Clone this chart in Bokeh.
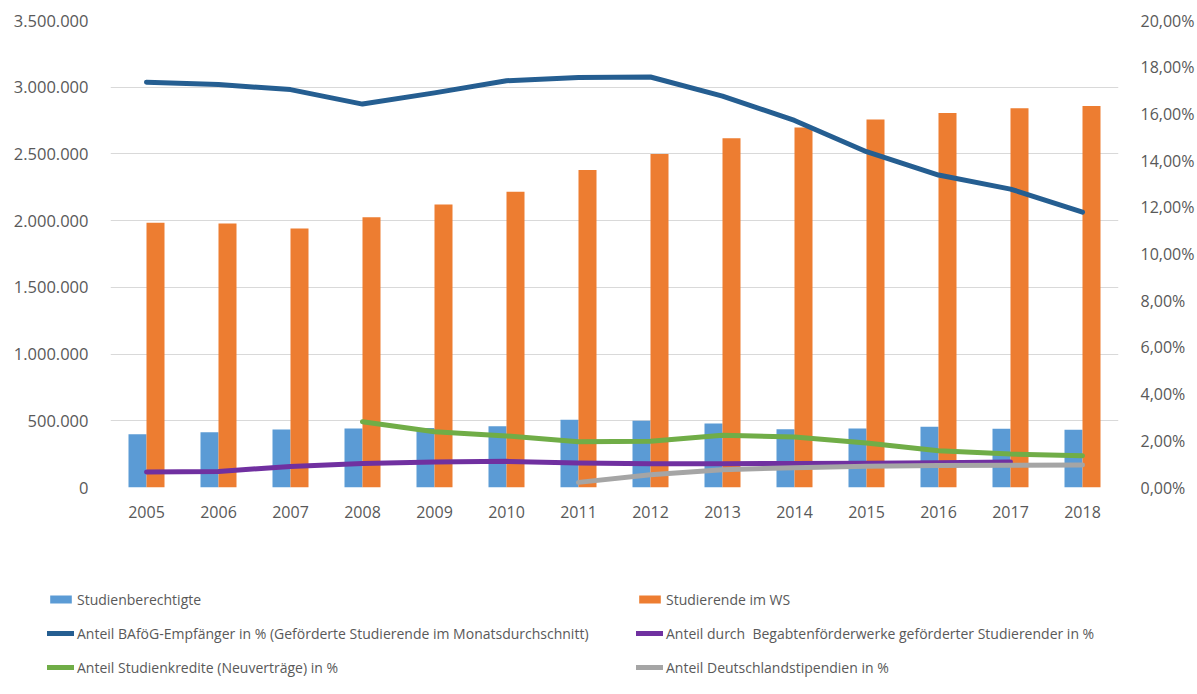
import math
from bokeh.plotting import figure
from bokeh.models import (FactorRange, Range1d, LinearAxis, FixedTicker, Legend,
                          LegendItem, ColumnDataSource)
from bokeh.transform import dodge
from bokeh.embed import file_html
from bokeh.resources import INLINE

years = ["2005", "2006", "2007", "2008", "2009", "2010", "2011",
         "2012", "2013", "2014", "2015", "2016", "2017", "2018"]
studienberechtigte = [399000, 415000, 435000, 443000, 445000, 459000, 507000,
                      501000, 480000, 437000, 442000, 455000, 441000, 432000]
studierende = [1985000, 1979000, 1942000, 2026000, 2121000, 2216000, 2380000,
               2499000, 2617000, 2699000, 2758000, 2806000, 2843000, 2860000]
bafoeg_pct = [17.36, 17.26, 17.04, 16.42, 16.9, 17.42, 17.56,
              17.58, 16.76, 15.72, 14.38, 13.38, 12.78, 11.79]
begabten_pct = [0.66, 0.69, 0.90, 1.03, 1.09, 1.12, 1.05,
                1.02, 1.02, 1.03, 1.04, 1.06, 1.09, None]
kredite_pct = [None, None, None, 2.82, 2.39, 2.21, 1.96,
               1.98, 2.24, 2.16, 1.91, 1.57, 1.43, 1.36]
stipendien_pct = [None, None, None, None, None, None, 0.22,
                  0.55, 0.76, 0.85, 0.91, 0.94, 0.95, 0.96]

left_ticks = [0, 500000, 1000000, 1500000, 2000000, 2500000, 3000000, 3500000]
left_tick_labels = ["0", "500.000", "1.000.000", "1.500.000", "2.000.000",
                    "2.500.000", "3.000.000", "3.500.000"]
right_ticks = [0, 2, 4, 6, 8, 10, 12, 14, 16, 18, 20]
right_tick_labels = ["0,00%", "2,00%", "4,00%", "6,00%", "8,00%", "10,00%",
                     "12,00%", "14,00%", "16,00%", "18,00%", "20,00%"]

legend_labels = ["Studienberechtigte", "Studierende im WS",
                 "Anteil BAföG-Empfänger in % (Geförderte Studierende im Monatsdurchschnitt)",
                 "Anteil durch  Begabtenförderwerke geförderter Studierender in %",
                 "Anteil Studienkredite (Neuverträge) in %",
                 "Anteil Deutschlandstipendien in %"]

colors = ["#5b9bd5", "#ed7d31", "#255e91", "#7030a0", "#70ad47", "#a5a5a5"]

def nan(v):
    return [float("nan") if x is None else x for x in v]

src = ColumnDataSource(dict(
    years=years, sb=studienberechtigte, st=studierende,
    baf=bafoeg_pct, beg=nan(begabten_pct), kre=nan(kredite_pct), sti=nan(stipendien_pct)))

FONT = "Open Sans"
TXT = "#595959"


def draw_series(fig):
    rs = [
        fig.vbar(x=dodge("years", -0.125, range=fig.x_range), top="sb", width=0.25,
                 source=src, fill_color=colors[0], line_color=None),
        fig.vbar(x=dodge("years", 0.125, range=fig.x_range), top="st", width=0.25,
                 source=src, fill_color=colors[1], line_color=None),
    ]
    lk = dict(line_width=5, line_cap="round", line_join="round",
              y_range_name="pct", source=src)
    for col, c in zip(["baf", "beg", "kre", "sti"], colors[2:]):
        rs.append(fig.line("years", col, line_color=c, **lk))
    return rs


p = figure(x_range=FactorRange(*years, range_padding=0),
           y_range=Range1d(0, 3500000),
           width=1197, height=540, output_backend="svg", toolbar_location=None,
           min_border_left=110, min_border_right=76, min_border_top=20,
           min_border_bottom=53)
p.extra_y_ranges = {"pct": Range1d(0, 20)}
p.outline_line_color = None

p.xgrid.visible = False
p.ygrid.grid_line_color = "#d9d9d9"
p.ygrid.grid_line_width = 1
p.yaxis.ticker = FixedTicker(ticks=left_ticks)
p.yaxis.major_label_overrides = {t: l for t, l in zip(left_ticks, left_tick_labels)}

raxis = LinearAxis(y_range_name="pct", ticker=FixedTicker(ticks=right_ticks))
raxis.major_label_overrides = {t: l for t, l in zip(right_ticks, right_tick_labels)}
p.add_layout(raxis, "right")

for ax in [p.xaxis[0], p.yaxis[0], raxis]:
    ax.axis_line_color = None
    ax.major_tick_line_color = None
    ax.minor_tick_line_color = None
    ax.major_label_text_font = FONT
    ax.major_label_text_font_size = "16px"
    ax.major_label_text_color = TXT
p.yaxis[0].major_label_text_font_size = "16.5px"
p.xaxis.major_label_standoff = 12
p.yaxis[0].major_label_standoff = 16
raxis.major_label_standoff = 16

draw_series(p)

# legend panel: a separate root below the chart; its series copies lie outside its view
q = figure(width=1197, height=154, output_backend="svg", toolbar_location=None,
           x_range=FactorRange(*years), y_range=Range1d(8000000, 9000000),
           min_border_left=0, min_border_right=0, min_border_top=0, min_border_bottom=0)
q.extra_y_ranges = {"pct": Range1d(80, 90)}
q.axis.visible = False
q.grid.visible = False
q.outline_line_color = None
lr = draw_series(q)
items = [LegendItem(label=l, renderers=[r]) for l, r in zip(legend_labels, lr)]
legend = Legend(items=items, location=(47, 17), orientation="horizontal", ncols=2,
                glyph_width=27, glyph_height=10, label_height=20, label_standoff=3,
                label_width=545, spacing=14, padding=0, margin=0,
                label_text_font=FONT, label_text_font_size="14px", label_text_color=TXT,
                border_line_color=None, background_fill_alpha=0)
q.add_layout(legend, "center")

open("out.html", "w").write(file_html([p, q], INLINE))
